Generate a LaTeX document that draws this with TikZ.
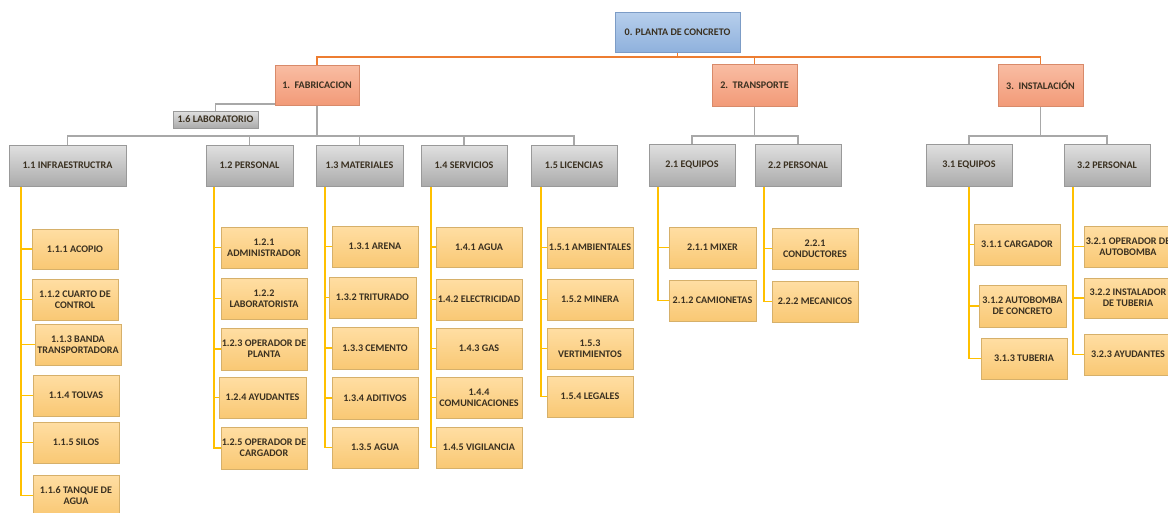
\documentclass[tikz,border=0pt]{standalone}
\usepackage{fontspec}
\setmainfont{Carlito}
\usetikzlibrary{backgrounds,calc}
\definecolor{rootT}{HTML}{B7CFEC}
\definecolor{rootB}{HTML}{8FB1DD}
\definecolor{rootD}{HTML}{7C9CC6}
\definecolor{salT}{HTML}{F9BDA3}
\definecolor{salB}{HTML}{F29A78}
\definecolor{salD}{HTML}{D88A6A}
\definecolor{grT}{HTML}{E0E0E0}
\definecolor{grB}{HTML}{ABABAB}
\definecolor{grD}{HTML}{999999}
\definecolor{orT}{HTML}{FFDEA3}
\definecolor{orB}{HTML}{F9C874}
\definecolor{orD}{HTML}{D6B06A}
\definecolor{txt}{HTML}{3A3020}
\definecolor{lnO}{HTML}{ED7D31}
\definecolor{lnG}{HTML}{A8A8A8}
\definecolor{lnY}{HTML}{FFC000}
\newcommand\bx[7]{\node[#6, minimum width={(#4-#2)*1pt}, minimum height={(#5-#3)*1pt}] (#1) at ({(#2+#4)/2},{(#3+#5)/2}) {#7};}
\begin{document}
\begin{tikzpicture}[x=1pt,y=-1pt,
  base/.style={rectangle, inner sep=0pt, outer sep=0pt, align=center, text=txt,
    font=\bfseries\fontsize{10.1}{11}\selectfont, line width=0.6pt},
  rootbox/.style={base, top color=rootT, bottom color=rootB, draw=rootD},
  lonebox/.style={base, top color=salT, bottom color=salB, draw=salD},
  ltwobox/.style={base, top color=grT, bottom color=grB, draw=grD},
  lthreebox/.style={base, top color=orT, bottom color=orB, draw=orD},
  oline/.style={draw=lnO, line width=1.6pt},
  gline/.style={draw=lnG, line width=1.6pt},
  yline/.style={draw=lnY, line width=1.6pt}]
\useasboundingbox (0,0) rectangle (1168,512);
% level 0 and 1
\bx{root}{615}{12}{740}{52}{rootbox}{0. PLANTA DE CONCRETO}
\bx{fab}{275}{65}{359}{105}{lonebox}{1.~~FABRICACION}
\bx{tra}{712}{64}{797}{106}{lonebox}{2.~~TRANSPORTE}
\bx{ins}{998}{64}{1083}{106}{lonebox}{3.~~INSTALACIÓN}
\bx{lab}{173}{111}{258}{128}{ltwobox}{1.6 LABORATORIO}
% level 2
\bx{c11}{9}{145}{126}{186}{ltwobox}{1.1 INFRAESTRUCTRA}
\bx{c12}{206}{145}{293}{186}{ltwobox}{1.2 PERSONAL}
\bx{c13}{316}{145}{403}{186}{ltwobox}{1.3 MATERIALES}
\bx{c14}{421}{145}{507}{186}{ltwobox}{1.4 SERVICIOS}
\bx{c15}{531}{145}{617}{186}{ltwobox}{1.5 LICENCIAS}
\bx{c21}{649}{144}{735}{186}{ltwobox}{2.1 EQUIPOS}
\bx{c22}{755}{144}{841}{186}{ltwobox}{2.2 PERSONAL}
\bx{c31}{926}{144}{1012}{186}{ltwobox}{3.1 EQUIPOS}
\bx{c32}{1064}{144}{1150}{186}{ltwobox}{3.2 PERSONAL}
% level 3 : 1.1
\bx{d111}{32}{229}{118}{269}{lthreebox}{1.1.1 ACOPIO}
\bx{d112}{32}{279}{118}{320}{lthreebox}{1.1.2 CUARTO DE\\CONTROL}
\bx{d113}{35}{324}{121}{365}{lthreebox}{1.1.3 BANDA\\TRANSPORTADORA}
\bx{d114}{33}{375}{119}{416}{lthreebox}{1.1.4 TOLVAS}
\bx{d115}{33}{422}{119}{463}{lthreebox}{1.1.5 SILOS}
\bx{d116}{33}{475}{119}{516}{lthreebox}{1.1.6 TANQUE DE\\AGUA}
% 1.2
\bx{d121}{221}{227}{307}{268}{lthreebox}{1.2.1\\ADMINISTRADOR}
\bx{d122}{221}{278}{307}{319}{lthreebox}{1.2.2\\LABORATORISTA}
\bx{d123}{221}{328}{307}{370}{lthreebox}{1.2.3 OPERADOR DE\\PLANTA}
\bx{d124}{219}{377}{306}{418}{lthreebox}{1.2.4 AYUDANTES}
\bx{d125}{221}{427}{307}{469}{lthreebox}{1.2.5 OPERADOR DE\\CARGADOR}
% 1.3
\bx{d131}{332}{226}{418}{267}{lthreebox}{1.3.1 ARENA}
\bx{d132}{329}{277}{416}{318}{lthreebox}{1.3.2 TRITURADO}
\bx{d133}{332}{327}{418}{369}{lthreebox}{1.3.3 CEMENTO}
\bx{d134}{332}{377}{418}{419}{lthreebox}{1.3.4 ADITIVOS}
\bx{d135}{332}{427}{418}{468}{lthreebox}{1.3.5 AGUA}
% 1.4
\bx{d141}{436}{227}{522}{267}{lthreebox}{1.4.1 AGUA}
\bx{d142}{436}{279}{522}{320}{lthreebox}{1.4.2 ELECTRICIDAD}
\bx{d143}{436}{328}{522}{369}{lthreebox}{1.4.3 GAS}
\bx{d144}{436}{377}{522}{418}{lthreebox}{1.4.4\\COMUNICACIONES}
\bx{d145}{436}{427}{522}{468}{lthreebox}{1.4.5 VIGILANCIA}
% 1.5
\bx{d151}{547}{227}{633}{268}{lthreebox}{1.5.1 AMBIENTALES}
\bx{d152}{547}{279}{633}{320}{lthreebox}{1.5.2 MINERA}
\bx{d153}{547}{328}{633}{369}{lthreebox}{1.5.3\\VERTIMIENTOS}
\bx{d154}{547}{376}{633}{417}{lthreebox}{1.5.4 LEGALES}
% 2.x
\bx{d211}{669}{227}{756}{268}{lthreebox}{2.1.1 MIXER}
\bx{d212}{669}{280}{756}{321}{lthreebox}{2.1.2 CAMIONETAS}
\bx{d221}{772}{228}{858}{269}{lthreebox}{2.2.1\\CONDUCTORES}
\bx{d222}{772}{281}{858}{322}{lthreebox}{2.2.2 MECANICOS}
% 3.x
\bx{d311}{974}{224}{1060}{265}{lthreebox}{3.1.1 CARGADOR}
\bx{d312}{979}{285}{1066}{327}{lthreebox}{3.1.2 AUTOBOMBA\\DE CONCRETO}
\bx{d313}{981}{338}{1067}{379}{lthreebox}{3.1.3 TUBERIA}
\bx{d321}{1084}{226}{1172}{267}{lthreebox}{3.2.1 OPERADOR DE\\AUTOBOMBA}
\bx{d322}{1084}{278}{1172}{318}{lthreebox}{3.2.2 INSTALADOR\\DE TUBERIA}
\bx{d323}{1084}{334}{1172}{375}{lthreebox}{3.2.3 AYUDANTES}
\begin{scope}[on background layer]
% orange
\foreach \n in {fab,tra,ins}
  \draw[oline] (root.south) -- ++(0,5) -| (\n.north);
% gray
\draw[gline] (lab.north) |- ($(fab.south)+(0,-1)$);
\foreach \n in {c11,c12,c13,c14,c15}
  \draw[gline] (fab.south) -- ++(0,31) -| (\n.north);
\foreach \n in {c21,c22}
  \draw[gline] (tra.south) -- ++(0,30) -| (\n.north);
\foreach \n in {c31,c32}
  \draw[gline] (ins.south) -- ++(0,30) -| (\n.north);
% yellow
\foreach \n in {d111,d112,d113,d114,d115,d116}
  \draw[yline] ([xshift=12pt]c11.south west) |- (\n.west);
\foreach \n in {d121,d122,d123,d124,d125}
  \draw[yline] ([xshift=8pt]c12.south west) |- (\n.west);
\foreach \n in {d131,d132,d133,d134,d135}
  \draw[yline] ([xshift=9pt]c13.south west) |- (\n.west);
\foreach \n in {d141,d142,d143,d144,d145}
  \draw[yline] ([xshift=10pt]c14.south west) |- (\n.west);
\foreach \n in {d151,d152,d153,d154}
  \draw[yline] ([xshift=10pt]c15.south west) |- (\n.west);
\foreach \n in {d211,d212}
  \draw[yline] ([xshift=9pt]c21.south west) |- (\n.west);
\foreach \n in {d221,d222}
  \draw[yline] ([xshift=9pt]c22.south west) |- (\n.west);
\foreach \n in {d311,d312,d313}
  \draw[yline] (c31.south) |- (\n.west);
\foreach \n in {d321,d322,d323}
  \draw[yline] ([xshift=9pt]c32.south west) |- (\n.west);
\end{scope}
\end{tikzpicture}
\end{document}
